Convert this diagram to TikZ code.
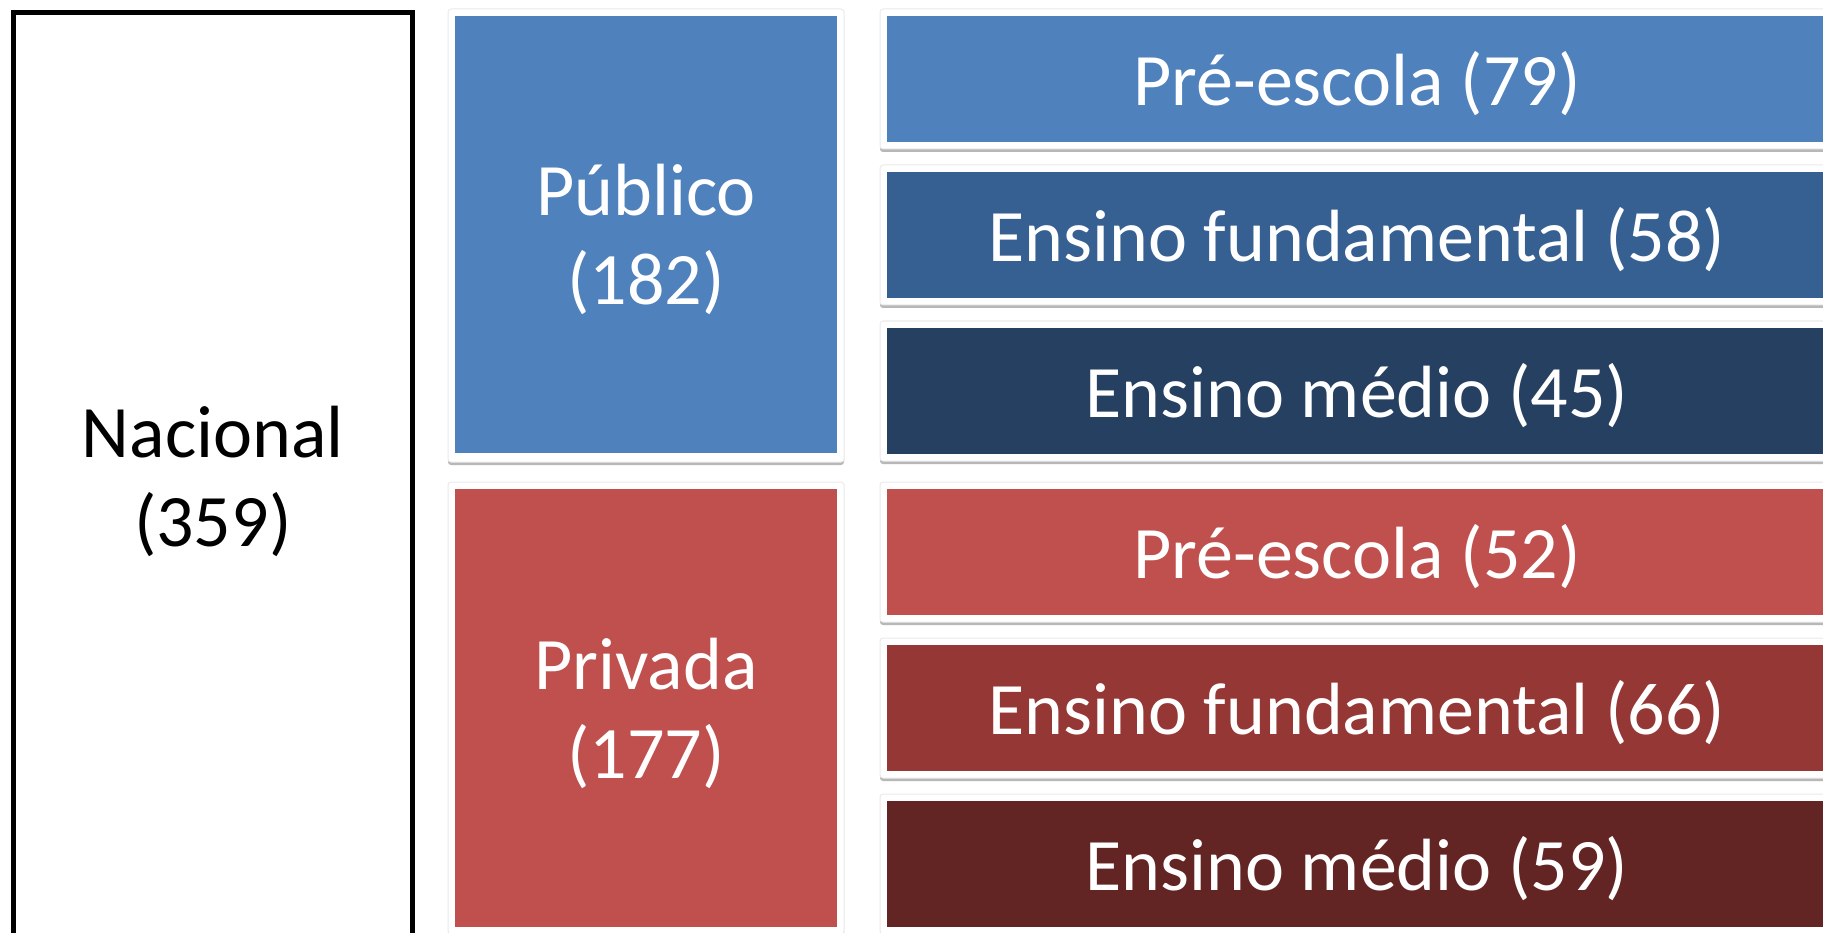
\documentclass[tikz,border=0pt]{standalone}
\usepackage{fontspec}
\setmainfont{Carlito}
\usetikzlibrary{shadows}
\definecolor{bA}{HTML}{4F81BD}
\definecolor{bB}{HTML}{376092}
\definecolor{bC}{HTML}{254061}
\definecolor{rA}{HTML}{C0504D}
\definecolor{rB}{HTML}{953735}
\definecolor{rC}{HTML}{632523}
\begin{document}
\begin{tikzpicture}[x=1pt,y=-1pt,
  frame/.style={fill=white, draw=black!8, line width=1pt, rounded corners=3pt, inner sep=0pt, outer sep=0pt,
    drop shadow={shadow xshift=0pt, shadow yshift=-3pt, opacity=0.4, fill=black!70}},
  txt/.style={inner sep=0pt, align=center, font=\fontsize{74}{89}\selectfont, yshift=-5pt},
  cell/.style={draw=none, inner sep=0pt, outer sep=0pt},
  rowcell/.style={cell, minimum width=940pt, minimum height=126pt},
  rowframe/.style={frame, minimum width=954pt, minimum height=140pt},
  grpcell/.style={cell, minimum width=382pt},
  grpframe/.style={frame, minimum width=396pt}]
\useasboundingbox (0,0) rectangle (1823,933);
\fill[white] (0,0) rectangle (1823,933);

% national box
\node[draw=black, line width=5pt, minimum width=398.5pt, minimum height=928.5pt, inner sep=0pt,
  label={[txt, text=black]center:{Nacional\\(359)}}] (nac) at (212.75,476.75) {};

% groups
\node[grpframe, minimum height=453pt] (pubf) at (646,235.5) {};
\node[grpcell, fill=bA, minimum height=437pt,
  label={[txt, text=white]center:{Público\\(182)}}] (pub) at (646,234.5) {};
\node[grpframe, minimum height=452pt] (privf) at (646,708) {};
\node[grpcell, fill=rA, minimum height=438pt,
  label={[txt, text=white]center:{Privada\\(177)}}] (priv) at (646,708) {};

% rows
\foreach \y/\c/\t/\n in {79/bA/{Pré-escola (79)}/r1, 235/bB/{Ensino fundamental (58)}/r2, 391/bC/{Ensino médio (45)}/r3,
  552/rA/{Pré-escola (52)}/r4, 708/rB/{Ensino fundamental (66)}/r5, 864/rC/{Ensino médio (59)}/r6}{
  \node[rowframe] (\n f) at (1357,\y) {};
  \node[rowcell, fill=\c, label={[txt, text=white]center:{\t}}] (\n) at (1357,\y) {};
}
\end{tikzpicture}
\end{document}
